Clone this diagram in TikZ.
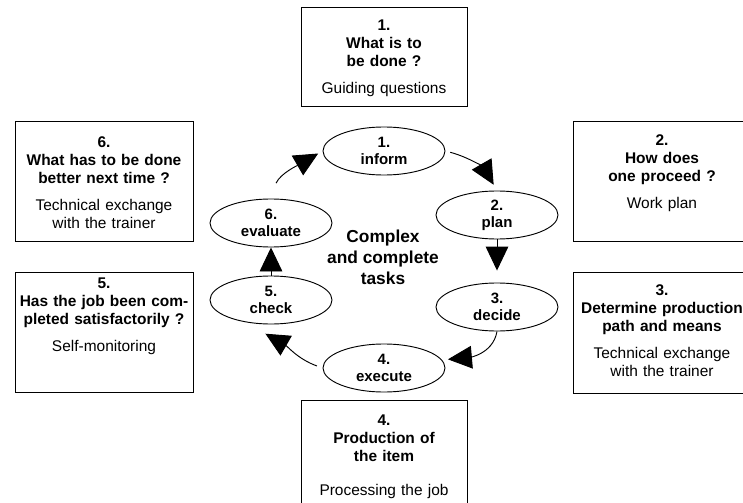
\documentclass[tikz,border=0pt]{standalone}
\usepackage{fontspec}
\setmainfont{Liberation Sans}
\usepackage{tikz}
\usetikzlibrary{shapes.geometric}
\usetikzlibrary{arrows.meta}
\usetikzlibrary{positioning}

\begin{document}
\begin{tikzpicture}[x=0.75pt,y=0.75pt]
    \tikzstyle{every path}=[line width=0.7pt]
    \tikzstyle{phase}=[draw=black,ellipse,minimum width=91.5pt,minimum height=36pt,inner sep=0pt,align=center,font=\bfseries\fontsize{11.25}{12.75}\selectfont]
    \tikzstyle{frame}=[draw=black,minimum width=133.5pt,minimum height=90pt]
    \tikzstyle{frametext}=[anchor=north,inner sep=0pt,text width=131pt,align=center,font=\fontsize{11.6}{13.5}\selectfont]
    \tikzstyle{flow}=[-{Triangle[length=18pt,width=17pt]}]

    \useasboundingbox (0,0) rectangle (743,-503);

    % the six steps
    \node[phase] (inform)   at (384,-151) {1.\\inform};
    \node[phase] (plan)     at (497,-215) {2.\\plan};
    \node[phase] (decide)   at (497,-307) {3.\\decide};
    \node[phase] (execute)  at (384,-368) {4.\\execute};
    \node[phase] (check)    at (271,-300) {5.\\check};
    \node[phase] (evaluate) at (271,-223) {6.\\evaluate};

    \node[align=center,font=\bfseries\fontsize{13}{15.75}\selectfont] (tasks) at (383,-257) {Complex\\and complete\\tasks};

    \draw[flow,shorten <=3.75pt,shorten >=5pt] (inform.east) to[out=-15,in=120] (plan.north);
    \draw[flow,shorten >=9pt] (plan) -- (decide);
    \draw[flow,shorten >=4.5pt] (decide.south) to[out=-100,in=5] (execute.8);
    \draw[flow,shorten <=4.5pt] (execute.west) to[out=160,in=-30] ([yshift=-7pt]check.-103);
    \draw[flow] (check) -- (evaluate);
    \draw[flow,shorten <=12.75pt,shorten >=3.75pt] (evaluate.95) to[out=65,in=-150] (inform.west);

    % boxes round the cycle
    \node[frame,minimum width=124.5pt,minimum height=74.25pt] (box1) at (384,-56.5) {};
    \node[frame] (box2) at (662,-181) {};
    \node[frame,minimum height=90.75pt] (box3) at (662,-332.5) {};
    \node[frame,minimum width=124.5pt] (box4) at (384,-460) {};
    \node[frame] (box5) at (104,-332) {};
    \node[frame] (box6) at (104,-181) {};

    \node[frametext] (text1) at (384,-19.5)  {{\bfseries 1.\\What is to\\be done ?}\\[6.75pt]Guiding questions};
    \node[frametext] (text2) at (662,-134.5) {{\bfseries 2.\\How does\\one proceed ?}\\[6.75pt]Work plan};
    \node[frametext] (text3) at (662,-284.5) {{\bfseries 3.\\Determine production\\path and means}\\[6.75pt]Technical exchange\\with the trainer};
    \node[frametext] (text4) at (384,-414.5) {{\bfseries 4.\\Production of\\the item}\\[12pt]Processing the job};
    \node[frametext] (text5) at (104,-277.5) {{\bfseries 5.\\Has the job been com-\\pleted satisfactorily ?}\\[6.75pt]Self-monitoring};
    \node[frametext] (text6) at (104,-136.5) {{\bfseries 6.\\What has to be done\\better next time ?}\\[6.75pt]Technical exchange\\with the trainer};

\end{tikzpicture}
\end{document}
